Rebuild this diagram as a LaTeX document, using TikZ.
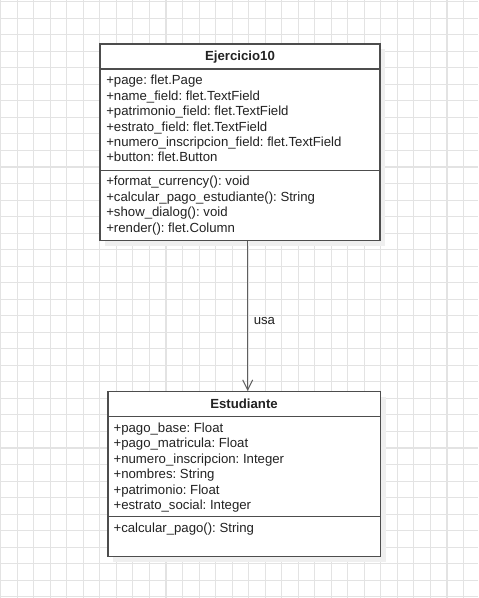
\documentclass[tikz,border=0pt]{standalone}
\usepackage{fontspec}
\setmainfont{Liberation Sans}
\usetikzlibrary{arrows.meta,calc}
\definecolor{gridc}{HTML}{E3E3E3}
\definecolor{shadowc}{HTML}{EFEFEF}
\definecolor{linec}{HTML}{4D4D4D}
\definecolor{textc}{HTML}{222222}
\tikzset{
  umlbox/.style={draw=linec, line width=1.05pt, fill=white, inner sep=0pt, anchor=north west},
  sepline/.style={draw=linec, line width=1.05pt},
  txt/.style={font=\fontsize{9.9pt}{11.6pt}\selectfont\frenchspacing, text=textc, inner sep=0pt, align=left, anchor=north west},
  hdr/.style={font=\fontsize{9.9pt}{11.6pt}\selectfont\bfseries, text=textc, inner sep=0pt},
  conn/.style={draw=linec!90, line width=0.9pt, -{Straight Barb[length=7.5pt,width=7.5pt,line width=0.75pt]}}
}
\begin{document}
\begin{tikzpicture}[x=0.75pt,y=-0.75pt]
\useasboundingbox (0,0) rectangle (478,598);
\fill[white] (0,0) rectangle (478,598);
% grid
\foreach \i in {0,...,29} {
  \draw[gridc, line width=0.8pt] ({0.7+16.53*\i},0) -- ({0.7+16.53*\i},598);
}
\foreach \j in {0,...,36} {
  \draw[gridc, line width=0.8pt] (0,{1.7+16.53*\j}) -- (478,{1.7+16.53*\j});
}
% shadows
\fill[shadowc] (105.3,49.3) rectangle (385.3,246);
\fill[shadowc] (113.3,397) rectangle (386,561.7);
% box 1
\node[umlbox, minimum width=210pt, minimum height=147.5pt] (e1) at (99.3,43.3) {};
\draw[sepline] ($(e1.north west)+(0,25.7)$) -- ($(e1.north east)+(0,25.7)$);
\draw[sepline] ($(e1.north west)+(0,127.4)$) -- ($(e1.north east)+(0,127.4)$);
\node[hdr] (e1h) at (240,56.7) {Ejercicio10};
\node[txt] (e1a) at (106,74.8) {+page: flet.Page\\+name\_field: flet.TextField\\+patrimonio\_field: flet.TextField\\+estrato\_field: flet.TextField\\+numero\_inscripcion\_field: flet.TextField\\+button: flet.Button};
\node[txt] (e1m) at (106,175.8) {+format\_currency(): void\\+calcular\_pago\_estudiante(): String\\+show\_dialog(): void\\+render(): flet.Column};
% box 2
\node[umlbox, minimum width=204.5pt, minimum height=123.5pt] (e2) at (107.3,391) {};
\draw[sepline] ($(e2.north west)+(0,25.7)$) -- ($(e2.north east)+(0,25.7)$);
\draw[sepline] ($(e2.north west)+(0,125.7)$) -- ($(e2.north east)+(0,125.7)$);
\node[hdr] (e2h) at (244,404) {Estudiante};
\node[txt] (e2a) at (113.3,422.4) {+pago\_base: Float\\+pago\_matricula: Float\\+numero\_inscripcion: Integer\\+nombres: String\\+patrimonio: Float\\+estrato\_social: Integer};
\node[txt] (e2m) at (113.3,523.1) {+calcular\_pago(): String};
% connector
\coordinate (cs) at ($(e1.south west)+(148.4,0)$);
\draw[conn] (cs) -- (cs |- e2.north) node[pos=0.53, right=4.1pt, txt, anchor=west] (lbl) {usa};
\end{tikzpicture}
\end{document}
